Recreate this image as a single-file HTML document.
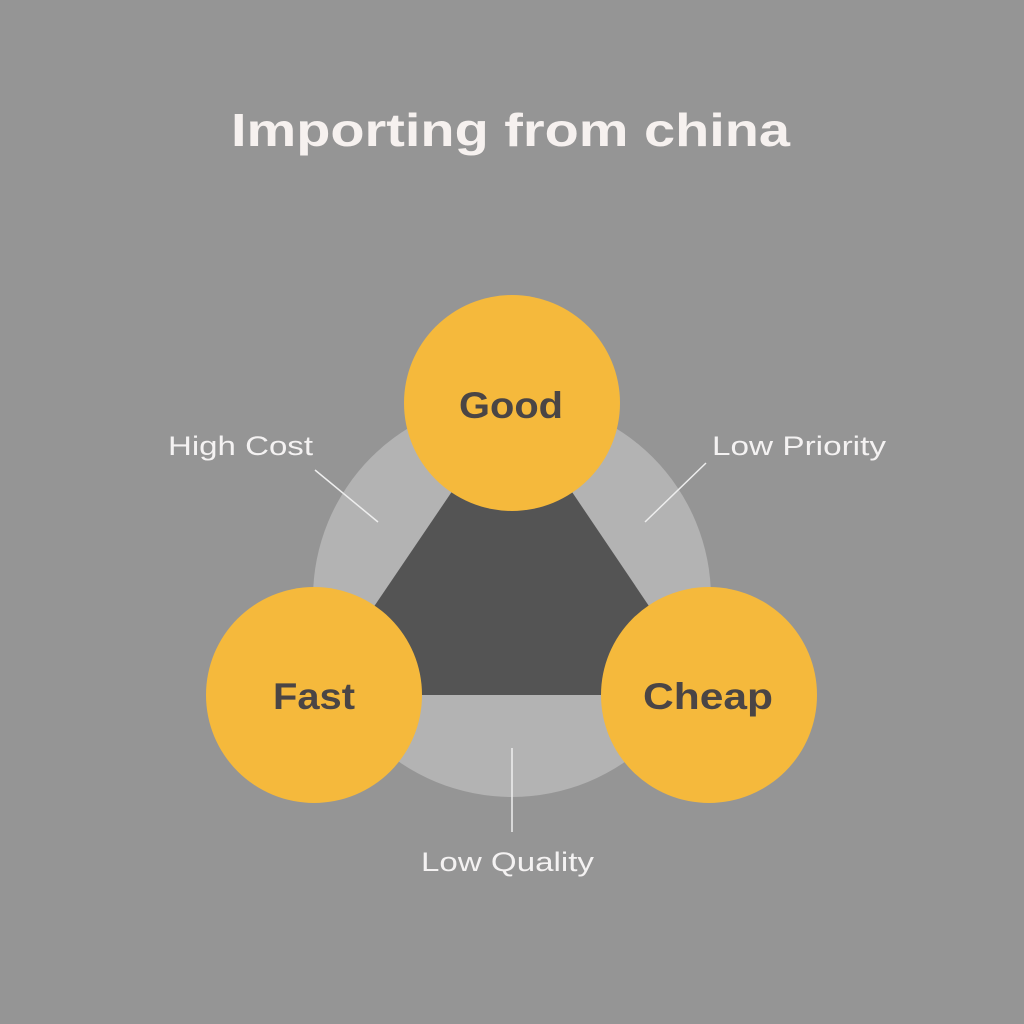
<!DOCTYPE html>
<html><head><meta charset="utf-8"><style>
html,body{margin:0;padding:0;background:#959595;}
svg{display:block}
</style></head><body>
<svg width="1024" height="1024" viewBox="0 0 1024 1024" xmlns="http://www.w3.org/2000/svg">
<rect width="1024" height="1024" fill="#959595"/>
<text x="231" y="146" textLength="559" lengthAdjust="spacingAndGlyphs" font-family="Liberation Sans, sans-serif" font-weight="bold" font-size="46" fill="#f6f1ef">Importing from china</text>
<circle cx="512" cy="598" r="199" fill="#b3b3b3"/>
<polygon points="512,403 314,695 709,695" fill="#545454"/>
<line x1="315" y1="470" x2="378" y2="522" stroke="#eeeeee" stroke-width="1.5"/>
<line x1="706" y1="463" x2="645" y2="522" stroke="#eeeeee" stroke-width="1.5"/>
<line x1="512" y1="748" x2="512" y2="832" stroke="#eeeeee" stroke-width="1.5"/>
<circle cx="512" cy="403" r="108" fill="#f5b93c"/>
<circle cx="314" cy="695" r="108" fill="#f5b93c"/>
<circle cx="709" cy="695" r="108" fill="#f5b93c"/>
<g font-family="Liberation Sans, sans-serif" font-weight="bold" font-size="37" fill="#4a4545" lengthAdjust="spacingAndGlyphs">
<text x="459" y="418" textLength="104" lengthAdjust="spacingAndGlyphs">Good</text>
<text x="273" y="709" textLength="82" lengthAdjust="spacingAndGlyphs">Fast</text>
<text x="643" y="709" textLength="130" lengthAdjust="spacingAndGlyphs">Cheap</text>
</g>
<g font-family="Liberation Sans, sans-serif" font-size="27" fill="#f4f2f2">
<text x="168" y="455" textLength="145" lengthAdjust="spacingAndGlyphs">High Cost</text>
<text x="712" y="455" textLength="174" lengthAdjust="spacingAndGlyphs">Low Priority</text>
<text x="421" y="871" textLength="173" lengthAdjust="spacingAndGlyphs">Low Quality</text>
</g>
</svg>
</body></html>
